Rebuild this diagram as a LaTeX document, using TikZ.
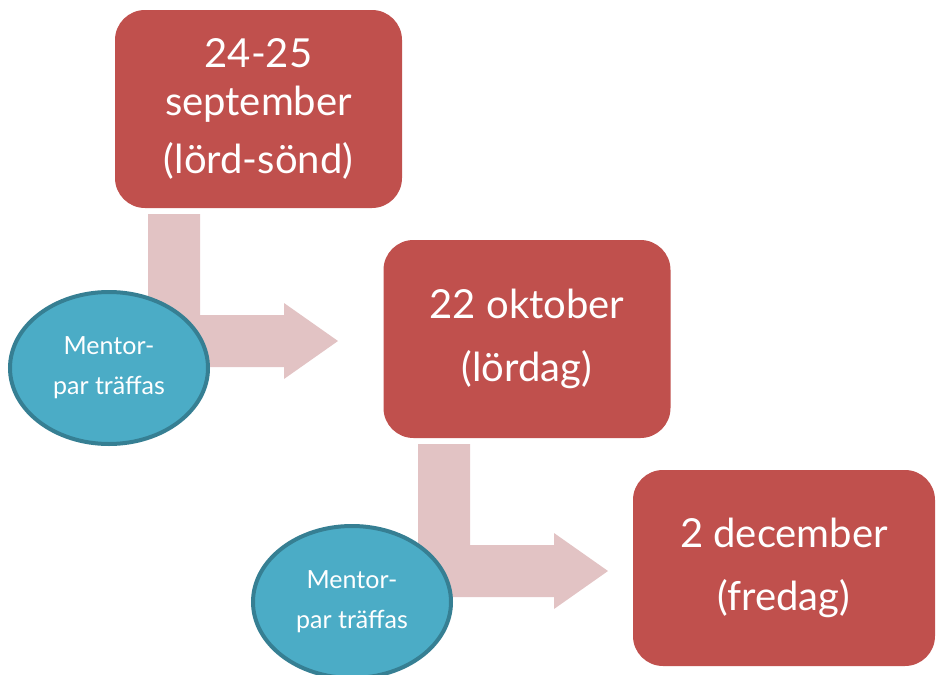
\documentclass[tikz,border=0pt]{standalone}
\usepackage{fontspec}
\setmainfont{Lato}
\usepackage{tikz}
\usetikzlibrary{shapes.geometric}
\definecolor{datered}{HTML}{C0504D}
\definecolor{arrowpink}{HTML}{E2C3C4}
\definecolor{mentorfill}{HTML}{4BACC6}
\definecolor{mentorline}{HTML}{367F93}
\tikzstyle{datebox}=[rectangle,rounded corners=30pt,fill=datered,text=white,
  minimum width=287pt,minimum height=198pt,inner sep=0pt,align=center,
  font=\fontsize{40}{48}\selectfont]
\tikzstyle{mentor}=[ellipse,fill=mentorfill,draw=mentorline,line width=4pt,
  minimum width=198pt,minimum height=152pt,inner sep=0pt,text=white,align=center,
  font=\fontsize{25}{40}\selectfont]
\tikzstyle{bentarrow}=[fill=arrowpink]
\begin{document}
\begin{tikzpicture}[x=1pt,y=-1pt]
	\useasboundingbox (0,0) rectangle (938,675);
	% bent arrows
	\foreach \dx/\dy in {0/0,270/230}
		\fill[bentarrow,shift={(\dx,\dy)}] (148,214) -- (200,214) -- (200,315) -- (284,315)
			-- (284,303) -- (338,341) -- (284,379) -- (284,367) -- (148,367) -- cycle;
	\node[mentor] (M1) at (109,368) {Mentor-\\par träffas};
	\node[mentor] (M2) at (352,602) {Mentor-\\par träffas};
	\node[datebox] (D1) at (258.5,109) {24-25\\september\\[10pt](lörd-sönd)};
	\node[datebox] (D2) at (527,339) {22 oktober\\[15pt](lördag)};
	\node[datebox,minimum width=302pt,minimum height=196pt] (D3) at (784,568) {2 december\\[15pt](fredag)};
\end{tikzpicture}
\end{document}
